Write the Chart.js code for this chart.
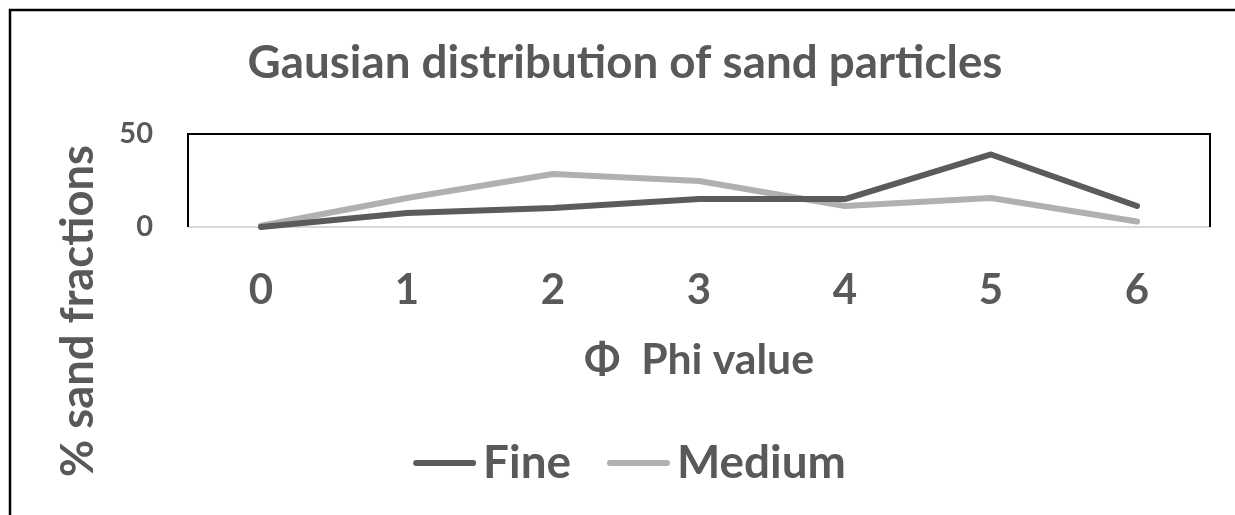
<!DOCTYPE html>
<html><head><meta charset="utf-8">
<script src="https://cdn.jsdelivr.net/npm/chart.js@4.4.0/dist/chart.umd.min.js"></script>
<style>html,body{margin:0;padding:0;background:#fff;} canvas{display:block}</style>
</head><body><canvas id="c" width="1235" height="515"></canvas>
<script>
const categories = ['0', '1', '2', '3', '4', '5', '6'];
const fineValues = [0, 7.5, 10.2, 15, 15, 39, 11.3];
const mediumValues = [0.7, 15.6, 28.5, 24.7, 11.3, 15.6, 3];
const seriesNames = ['Fine', 'Medium'];
const yTickValues = [0, 50];
const chartTitle = 'Gausian distribution of sand particles';
const xAxisTitle = 'Φ  Phi value';
const yAxisTitle = '% sand fractions';

const FAMILY = 'Lato, "Open Sans", sans-serif';
const TEXT = '#595959';
const mctx = document.createElement('canvas').getContext('2d');
function fit(text, width) { mctx.font = 'bold 100px ' + FAMILY; return 100 * width / mctx.measureText(text).width; }
const titleSize = fit(chartTitle, 755);
const xTitleSize = fit(xAxisTitle, 230);
const yTitleSize = fit(yAxisTitle, 332);
const legendSize = fit('Medium', 169);
const xTickSize = 42;
const yTickSize = 29;

const framePlugin = {
  id: 'frame',
  beforeDatasetsDraw(chart) {
    const {ctx, chartArea: a} = chart;
    ctx.save();
    ctx.strokeStyle = '#000'; ctx.lineWidth = 2;
    ctx.beginPath();
    ctx.moveTo(a.left, a.bottom); ctx.lineTo(a.left, a.top); ctx.lineTo(a.right, a.top); ctx.lineTo(a.right, a.bottom);
    ctx.stroke();
    ctx.restore();
  },
  afterDraw(chart) {
    const {ctx} = chart;
    ctx.save();
    ctx.strokeStyle = '#000'; ctx.lineWidth = 2.5;
    ctx.beginPath(); ctx.moveTo(10, 515); ctx.lineTo(10, 10); ctx.lineTo(1235, 10); ctx.stroke();
    ctx.fillStyle = TEXT;
    ctx.font = 'bold ' + yTitleSize + 'px ' + FAMILY;
    ctx.translate(78, 311); ctx.rotate(-Math.PI / 2);
    ctx.textAlign = 'center'; ctx.textBaseline = 'middle';
    ctx.fillText(yAxisTitle, 0, 0);
    ctx.restore();
    ctx.save();
    ctx.font = 'bold ' + legendSize + 'px ' + FAMILY;
    const lineW = 63, gap = 7, itemGap = 36, cy = 463;
    const items = chart.data.datasets.map(d => ({label: d.label, color: d.borderColor, w: ctx.measureText(d.label).width}));
    const total = items.reduce((s, it) => s + lineW + gap + it.w, 0) + itemGap * (items.length - 1);
    let x = 629.5 - total / 2;
    items.forEach(it => {
      ctx.strokeStyle = it.color; ctx.lineWidth = 6; ctx.lineCap = 'round';
      ctx.beginPath(); ctx.moveTo(x + 3, cy); ctx.lineTo(x + lineW - 3, cy); ctx.stroke();
      ctx.fillStyle = TEXT; ctx.textBaseline = 'middle'; ctx.textAlign = 'left';
      ctx.fillText(it.label, x + lineW + gap, cy);
      x += lineW + gap + it.w + itemGap;
    });
    ctx.restore();
  }
};

new Chart(document.getElementById('c'), {
  type: 'line',
  data: {
    labels: categories,
    datasets: [
      {label: seriesNames[0], data: fineValues, borderColor: '#5b5b5b', backgroundColor: '#5b5b5b', borderWidth: 6, pointRadius: 0, tension: 0, borderCapStyle: 'round', borderJoinStyle: 'round', clip: false},
      {label: seriesNames[1], data: mediumValues, borderColor: '#b0b0b0', backgroundColor: '#b0b0b0', borderWidth: 6, pointRadius: 0, tension: 0, borderCapStyle: 'round', borderJoinStyle: 'round', clip: false}
    ]
  },
  options: {
    responsive: false,
    animation: false,
    devicePixelRatio: 1,
    layout: {padding: {left: 40, right: 25, top: 0, bottom: 0}},
    plugins: {
      legend: {display: false},
      tooltip: {enabled: false},
      title: {display: true, text: chartTitle, color: TEXT, font: {family: FAMILY, size: titleSize, weight: 'bold', lineHeight: 1.2}, padding: {top: 36, bottom: 134 - 36 - titleSize * 1.2}}
    },
    scales: {
      x: {
        offset: true,
        grid: {display: false, drawTicks: false},
        border: {display: false},
        ticks: {color: TEXT, font: {family: FAMILY, size: xTickSize, weight: 'bold'}, padding: 38},
        title: {display: true, text: xAxisTitle, color: TEXT, font: {family: FAMILY, size: xTitleSize, weight: 'bold', lineHeight: 1.2}, padding: {top: 0, bottom: 155 - xTitleSize * 0.6}},
        afterFit(scale) { scale.height = 515 - 227; }
      },
      y: {
        min: 0, max: 50,
        afterBuildTicks(scale) { scale.ticks = yTickValues.map(v => ({value: v})); },
        grid: {drawTicks: false, lineWidth: 2, color: c => (c.tick && c.tick.value === 0) ? '#d9d9d9' : 'rgba(0,0,0,0)'},
        border: {display: false},
        ticks: {color: TEXT, font: {family: FAMILY, size: yTickSize, weight: 'bold'}, padding: 35},
        afterFit(scale) { scale.width = 148; }
      }
    }
  },
  plugins: [framePlugin]
});
</script>
</body></html>
